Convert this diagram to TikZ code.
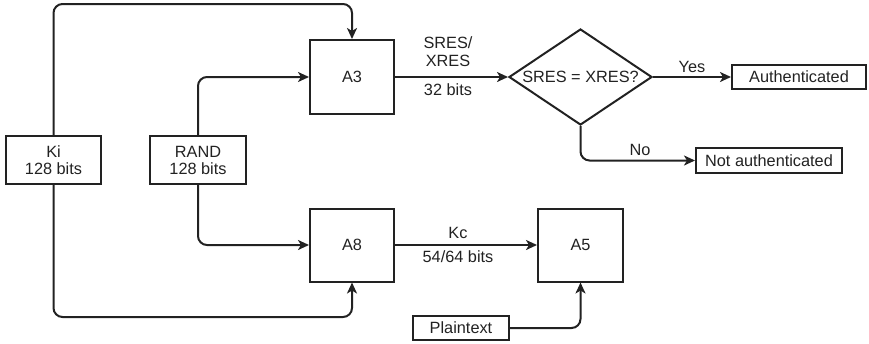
\documentclass[tikz,border=0pt]{standalone}
\usepackage{fontspec}
\setmainfont{Liberation Sans}
\usetikzlibrary{shapes.geometric,arrows.meta}
\definecolor{ink}{HTML}{222222}
\begin{document}
\begin{tikzpicture}[x=1pt,y=-1pt,
  font=\fontsize{16.3}{19}\selectfont,
  box/.style={draw=ink, line width=2pt, inner sep=0pt, align=center, text=ink},
  conn/.style={draw=ink, line width=2pt, rounded corners=9pt, -{Stealth[length=11pt,width=10pt,inset=3pt]}},
  lbl/.style={inner sep=0pt, text=ink, align=center}]
\useasboundingbox (0,0) rectangle (869,343);

\node[box, minimum width=95pt, minimum height=48pt] (ki) at (53.5,160) {Ki\\[-2pt]128 bits};
\node[box, minimum width=96pt, minimum height=48pt] (rand) at (198,160) {RAND\\[-2pt]128 bits};
\node[box, minimum width=84pt, minimum height=74pt] (a3) at (352,77) {A3};
\node[box, minimum width=84pt, minimum height=73pt] (a8) at (352,245) {A8};
\node[box, minimum width=85pt, minimum height=73pt] (a5) at (580.5,245) {A5};
\node[box, minimum width=96pt, minimum height=24pt] (plain) at (461,328) {Plaintext};
\node[box, diamond, aspect=1.49, minimum width=143pt, minimum height=96pt] (dia) at (580.5,77) {SRES = XRES?};
\node[box, minimum width=134pt, minimum height=24pt] (auth) at (799,77) {Authenticated};
\node[box, minimum width=146pt, minimum height=25pt] (nauth) at (769,160.5) {Not authenticated};

\draw[conn] (ki.north) -- ++(0,-131) -| (a3.north);
\draw[conn] (rand.north) |- (a3.west);
\draw[conn] (rand.south) |- (a8.west);
\draw[conn] (ki.south) -- ++(0,132) -| (a8.south);
\draw[conn] (a3.east) -- (dia.west);
\draw[conn] (dia.east) -- (auth.west);
\draw[conn] (dia.south) |- (nauth.west);
\draw[conn] (a8.east) -- (a5.west);
\draw[conn] (plain.east) -| (a5.south);

\node[lbl] (sres) at (448,52) {SRES/\\[-1pt]XRES};
\node[lbl] (bits32) at (448,90) {32 bits};
\node[lbl] (yes) at (692,67) {Yes};
\node[lbl] (no) at (640,150) {No};
\node[lbl] (kc) at (458,233) {Kc};
\node[lbl] (bits54) at (458,257) {54/64 bits};
\end{tikzpicture}
\end{document}
